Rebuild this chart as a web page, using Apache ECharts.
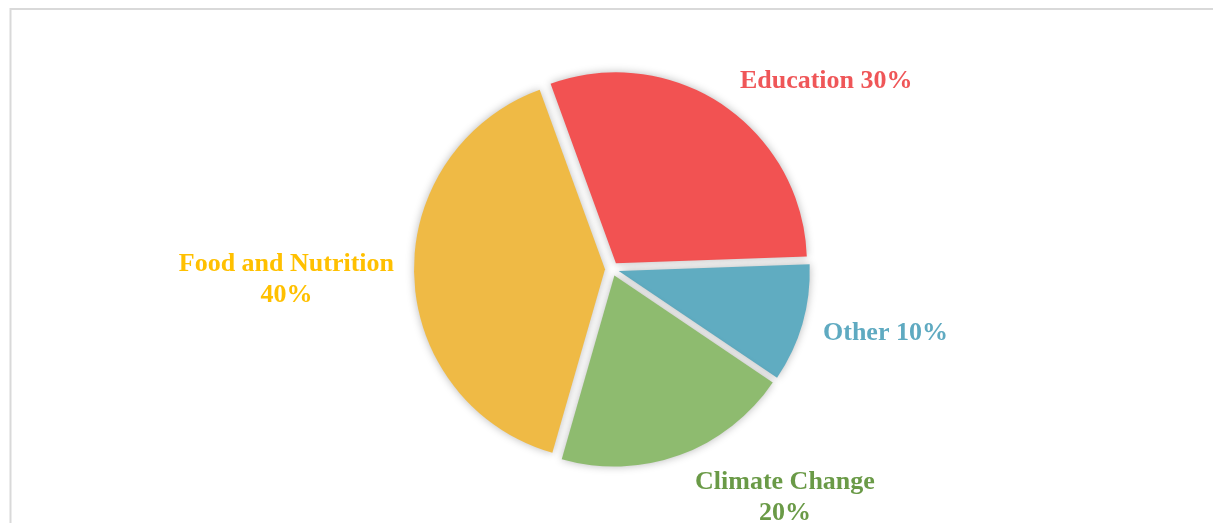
<!DOCTYPE html>
<html><head><meta charset="utf-8">
<script src="https://cdn.jsdelivr.net/npm/echarts@6/dist/echarts.min.js"></script>
<style>html,body{margin:0;padding:0;background:#fff}#c{width:1213px;height:523px}</style>
</head><body><div id="c"></div>
<script>
const categories = ['Education', 'Other', 'Climate Change', 'Food and Nutrition'];
const shares = [30, 10, 20, 40];
const sliceColors = ['#F25252', '#60ACC1', '#8EBB6F', '#EFBA45'];
const labelColors = ['#EF5658', '#5FAAC1', '#6A9A47', '#FFC000'];
const labelWrap = [false, false, true, true];

// label placement tuning (label line is hidden)
const labelTune = [
  { length: 31.4, length2: -5.4, padding: [4, 0, 0, 0] },
  { length: 0, length2: 15.7, padding: [19, 0, 0, 0] },
  { length: 43, length2: -4.4, padding: [4, 0, 0, 0] },
  { length: 0, length2: 15.1, padding: [7, 0, 0, 0] }
];

const font = { fontFamily: 'Liberation Serif', fontWeight: 'bold', fontSize: 26, lineHeight: 31 };

const chart = echarts.init(document.getElementById('c'), null, { renderer: 'canvas' });
chart.setOption({
  animation: false,
  backgroundColor: '#ffffff',
  graphic: [{
    type: 'rect', silent: true, z: -1,
    shape: { x: 10.5, y: 9, width: 1400, height: 700 },
    style: { fill: 'none', stroke: '#d9d9d9', lineWidth: 2 }
  }],
  series: [{
    type: 'pie',
    center: [612, 269],
    radius: 191,
    startAngle: 110,
    clockwise: true,
    selectedMode: 'multiple',
    selectedOffset: 7,
    avoidLabelOverlap: false,
    padAngle: 0,
    itemStyle: { borderWidth: 0, shadowBlur: 8, shadowColor: 'rgba(0,0,0,0.28)' },
    select: { itemStyle: { borderWidth: 0 } },
    emphasis: { disabled: true },
    labelLine: { show: false },
    label: Object.assign({ show: true, position: 'outside', alignTo: 'none', distanceToLabelLine: 5 }, font),
    data: categories.map((name, i) => ({
      name: name,
      value: shares[i],
      selected: true,
      itemStyle: { color: sliceColors[i] },
      labelLine: { show: false, length: labelTune[i].length, length2: labelTune[i].length2 },
      label: Object.assign({
        color: labelColors[i],
        padding: labelTune[i].padding,
        formatter: function (p) {
          return labelWrap[i]
            ? '{t|' + p.name + '}\n{t|' + p.value + '%}'
            : '{t|' + p.name + ' ' + p.value + '%}';
        },
        rich: { t: Object.assign({ color: labelColors[i], align: 'center' }, font) }
      }, font)
    }))
  }]
});
</script>
</body></html>
